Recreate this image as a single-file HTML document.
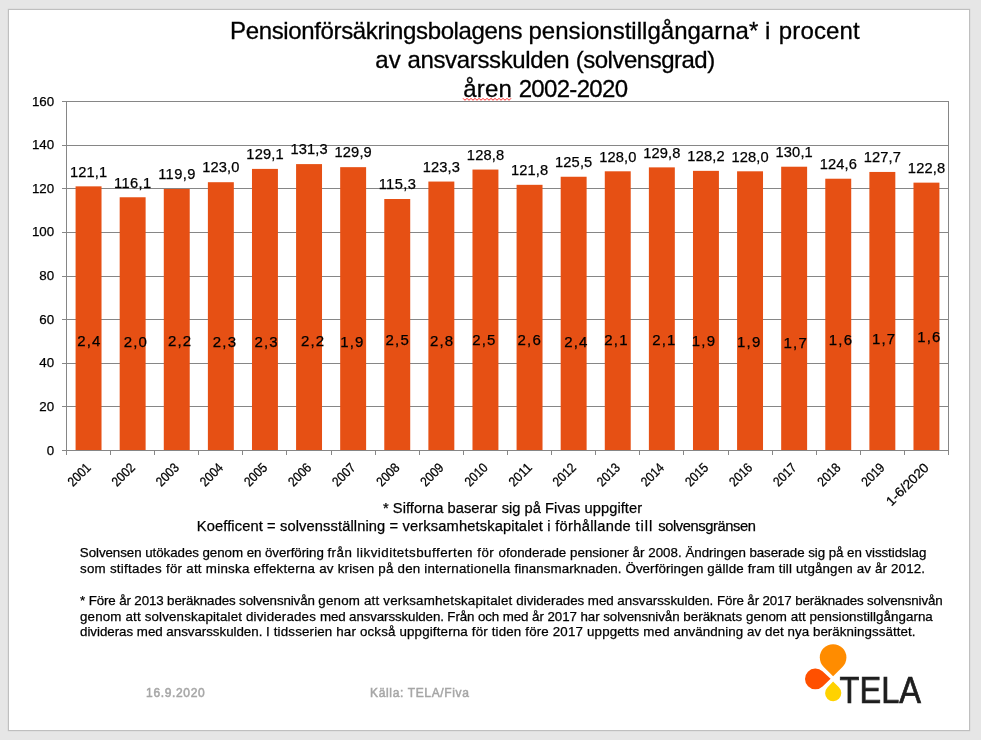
<!DOCTYPE html>
<html lang="sv">
<head>
<meta charset="utf-8">
<title>Pensionförsäkringsbolagens pensionstillgångarna i procent av ansvarsskulden (solvensgrad)</title>
<style>
html,body{margin:0;padding:0;}
body{width:981px;height:740px;overflow:hidden;background:#E6E6E6;font-family:"Liberation Sans", sans-serif;color:#000;position:relative;}
.slide{position:absolute;left:8px;top:9px;width:960px;height:720px;background:#fff;border:1px solid #BFBFBF;box-shadow:0 0 1px #BFBFBF;}
svg.chart,svg.logo{position:absolute;left:0;top:0;}
.ln{position:absolute;white-space:nowrap;line-height:1;margin:0;padding:0;font-weight:400;-webkit-text-stroke:0.25px #000;}
.t{font-size:24px;-webkit-text-stroke-width:0.3px;}
.n{font-size:14.67px;}
.p{font-size:13.33px;}
.f{font-size:12px;font-weight:400;color:#A6A6A6;-webkit-text-stroke:0.5px #A6A6A6;}
</style>
</head>
<body>
<div class="slide"></div>
<svg class="chart" width="981" height="740" viewBox="0 0 981 740" font-family='"Liberation Sans", sans-serif'>
<g stroke="#868686" stroke-width="1" fill="none" shape-rendering="crispEdges">
<line x1="66.5" y1="406.5" x2="948.5" y2="406.5"/>
<line x1="66.5" y1="363.5" x2="948.5" y2="363.5"/>
<line x1="66.5" y1="319.5" x2="948.5" y2="319.5"/>
<line x1="66.5" y1="276.5" x2="948.5" y2="276.5"/>
<line x1="66.5" y1="232.5" x2="948.5" y2="232.5"/>
<line x1="66.5" y1="188.5" x2="948.5" y2="188.5"/>
<line x1="66.5" y1="145.5" x2="948.5" y2="145.5"/>
<line x1="66.5" y1="101.5" x2="948.5" y2="101.5"/>
<line x1="948.5" y1="101.5" x2="948.5" y2="450.5"/>
</g>
<g fill="#E65014">
<rect x="75.58" y="186.35" width="25.94" height="264.15"/>
<rect x="119.68" y="197.26" width="25.94" height="253.24"/>
<rect x="163.78" y="188.97" width="25.94" height="261.53"/>
<rect x="207.88" y="182.21" width="25.94" height="268.29"/>
<rect x="251.98" y="168.9" width="25.94" height="281.6"/>
<rect x="296.08" y="164.1" width="25.94" height="286.4"/>
<rect x="340.18" y="167.16" width="25.94" height="283.34"/>
<rect x="384.28" y="199" width="25.94" height="251.5"/>
<rect x="428.38" y="181.55" width="25.94" height="268.95"/>
<rect x="472.48" y="169.56" width="25.94" height="280.94"/>
<rect x="516.58" y="184.82" width="25.94" height="265.68"/>
<rect x="560.68" y="176.75" width="25.94" height="273.75"/>
<rect x="604.78" y="171.3" width="25.94" height="279.2"/>
<rect x="648.88" y="167.37" width="25.94" height="283.13"/>
<rect x="692.98" y="170.86" width="25.94" height="279.64"/>
<rect x="737.08" y="171.3" width="25.94" height="279.2"/>
<rect x="781.18" y="166.72" width="25.94" height="283.78"/>
<rect x="825.28" y="178.72" width="25.94" height="271.78"/>
<rect x="869.38" y="171.95" width="25.94" height="278.55"/>
<rect x="913.48" y="182.64" width="25.94" height="267.86"/>
</g>
<g stroke="#868686" stroke-width="1" fill="none" shape-rendering="crispEdges">
<line x1="66.5" y1="101.0" x2="66.5" y2="455.0"/>
<line x1="62.0" y1="450.5" x2="949.0" y2="450.5"/>
<line x1="62.0" y1="406.5" x2="66.5" y2="406.5"/>
<line x1="62.0" y1="363.5" x2="66.5" y2="363.5"/>
<line x1="62.0" y1="319.5" x2="66.5" y2="319.5"/>
<line x1="62.0" y1="276.5" x2="66.5" y2="276.5"/>
<line x1="62.0" y1="232.5" x2="66.5" y2="232.5"/>
<line x1="62.0" y1="188.5" x2="66.5" y2="188.5"/>
<line x1="62.0" y1="145.5" x2="66.5" y2="145.5"/>
<line x1="62.0" y1="101.5" x2="66.5" y2="101.5"/>
<line x1="110.5" y1="450.5" x2="110.5" y2="455.0"/>
<line x1="154.5" y1="450.5" x2="154.5" y2="455.0"/>
<line x1="198.5" y1="450.5" x2="198.5" y2="455.0"/>
<line x1="242.5" y1="450.5" x2="242.5" y2="455.0"/>
<line x1="286.5" y1="450.5" x2="286.5" y2="455.0"/>
<line x1="331.5" y1="450.5" x2="331.5" y2="455.0"/>
<line x1="375.5" y1="450.5" x2="375.5" y2="455.0"/>
<line x1="419.5" y1="450.5" x2="419.5" y2="455.0"/>
<line x1="463.5" y1="450.5" x2="463.5" y2="455.0"/>
<line x1="507.5" y1="450.5" x2="507.5" y2="455.0"/>
<line x1="551.5" y1="450.5" x2="551.5" y2="455.0"/>
<line x1="595.5" y1="450.5" x2="595.5" y2="455.0"/>
<line x1="639.5" y1="450.5" x2="639.5" y2="455.0"/>
<line x1="683.5" y1="450.5" x2="683.5" y2="455.0"/>
<line x1="728.5" y1="450.5" x2="728.5" y2="455.0"/>
<line x1="772.5" y1="450.5" x2="772.5" y2="455.0"/>
<line x1="816.5" y1="450.5" x2="816.5" y2="455.0"/>
<line x1="860.5" y1="450.5" x2="860.5" y2="455.0"/>
<line x1="904.5" y1="450.5" x2="904.5" y2="455.0"/>
<line x1="948.5" y1="450.5" x2="948.5" y2="455.0"/>
</g>
<g font-size="13.33" fill="#000" stroke="#000" stroke-width="0.25" text-anchor="end">
<text x="54.2" y="454.5">0</text>
<text x="54.2" y="410.88">20</text>
<text x="54.2" y="367.25">40</text>
<text x="54.2" y="323.62">60</text>
<text x="54.2" y="280">80</text>
<text x="54.2" y="236.38">100</text>
<text x="54.2" y="192.75">120</text>
<text x="54.2" y="149.12">140</text>
<text x="54.2" y="105.5">160</text>
</g>
<g font-size="13.33" fill="#000" stroke="#000" stroke-width="0.25" text-anchor="end">
<text transform="translate(91.75 468.5) rotate(-45)" textLength="26.5" lengthAdjust="spacingAndGlyphs">2001</text>
<text transform="translate(135.85 468.5) rotate(-45)" textLength="26.5" lengthAdjust="spacingAndGlyphs">2002</text>
<text transform="translate(179.95 468.5) rotate(-45)" textLength="26.5" lengthAdjust="spacingAndGlyphs">2003</text>
<text transform="translate(224.05 468.5) rotate(-45)" textLength="26.5" lengthAdjust="spacingAndGlyphs">2004</text>
<text transform="translate(268.15 468.5) rotate(-45)" textLength="26.5" lengthAdjust="spacingAndGlyphs">2005</text>
<text transform="translate(312.25 468.5) rotate(-45)" textLength="26.5" lengthAdjust="spacingAndGlyphs">2006</text>
<text transform="translate(356.35 468.5) rotate(-45)" textLength="26.5" lengthAdjust="spacingAndGlyphs">2007</text>
<text transform="translate(400.45 468.5) rotate(-45)" textLength="26.5" lengthAdjust="spacingAndGlyphs">2008</text>
<text transform="translate(444.55 468.5) rotate(-45)" textLength="26.5" lengthAdjust="spacingAndGlyphs">2009</text>
<text transform="translate(488.65 468.5) rotate(-45)" textLength="26.5" lengthAdjust="spacingAndGlyphs">2010</text>
<text transform="translate(532.75 468.5) rotate(-45)" textLength="26.5" lengthAdjust="spacingAndGlyphs">2011</text>
<text transform="translate(576.85 468.5) rotate(-45)" textLength="26.5" lengthAdjust="spacingAndGlyphs">2012</text>
<text transform="translate(620.95 468.5) rotate(-45)" textLength="26.5" lengthAdjust="spacingAndGlyphs">2013</text>
<text transform="translate(665.05 468.5) rotate(-45)" textLength="26.5" lengthAdjust="spacingAndGlyphs">2014</text>
<text transform="translate(709.15 468.5) rotate(-45)" textLength="26.5" lengthAdjust="spacingAndGlyphs">2015</text>
<text transform="translate(753.25 468.5) rotate(-45)" textLength="26.5" lengthAdjust="spacingAndGlyphs">2016</text>
<text transform="translate(797.35 468.5) rotate(-45)" textLength="26.5" lengthAdjust="spacingAndGlyphs">2017</text>
<text transform="translate(841.45 468.5) rotate(-45)" textLength="26.5" lengthAdjust="spacingAndGlyphs">2018</text>
<text transform="translate(885.55 468.5) rotate(-45)" textLength="26.5" lengthAdjust="spacingAndGlyphs">2019</text>
<text transform="translate(929.65 468.5) rotate(-45)" textLength="54" lengthAdjust="spacingAndGlyphs">1-6/2020</text>
</g>
<g font-size="14.67" fill="#000" stroke="#000" stroke-width="0.25" text-anchor="middle">
<text x="88.55" y="176.6" textLength="37.2" lengthAdjust="spacing">121,1</text>
<text x="132.65" y="187.51" textLength="37.2" lengthAdjust="spacing">116,1</text>
<text x="176.75" y="179.22" textLength="37.2" lengthAdjust="spacing">119,9</text>
<text x="220.85" y="172.46" textLength="37.2" lengthAdjust="spacing">123,0</text>
<text x="264.95" y="159.15" textLength="37.2" lengthAdjust="spacing">129,1</text>
<text x="309.05" y="154.35" textLength="37.2" lengthAdjust="spacing">131,3</text>
<text x="353.15" y="157.41" textLength="37.2" lengthAdjust="spacing">129,9</text>
<text x="397.25" y="189.25" textLength="37.2" lengthAdjust="spacing">115,3</text>
<text x="441.35" y="171.8" textLength="37.2" lengthAdjust="spacing">123,3</text>
<text x="485.45" y="159.81" textLength="37.2" lengthAdjust="spacing">128,8</text>
<text x="529.55" y="175.07" textLength="37.2" lengthAdjust="spacing">121,8</text>
<text x="573.65" y="167" textLength="37.2" lengthAdjust="spacing">125,5</text>
<text x="617.75" y="161.55" textLength="37.2" lengthAdjust="spacing">128,0</text>
<text x="661.85" y="157.62" textLength="37.2" lengthAdjust="spacing">129,8</text>
<text x="705.95" y="161.11" textLength="37.2" lengthAdjust="spacing">128,2</text>
<text x="750.05" y="161.55" textLength="37.2" lengthAdjust="spacing">128,0</text>
<text x="794.15" y="156.97" textLength="37.2" lengthAdjust="spacing">130,1</text>
<text x="838.25" y="168.97" textLength="37.2" lengthAdjust="spacing">124,6</text>
<text x="882.35" y="162.2" textLength="37.2" lengthAdjust="spacing">127,7</text>
<text x="926.45" y="172.89" textLength="37.2" lengthAdjust="spacing">122,8</text>
</g>
<g font-size="15" fill="#000" stroke="#000" stroke-width="0.25" text-anchor="middle">
<text x="88.75" y="346.4" textLength="23.2" lengthAdjust="spacing">2,4</text>
<text x="135.3" y="346.9" textLength="23.2" lengthAdjust="spacing">2,0</text>
<text x="179.5" y="345.8" textLength="23.2" lengthAdjust="spacing">2,2</text>
<text x="224.45" y="347" textLength="23.2" lengthAdjust="spacing">2,3</text>
<text x="266.1" y="347" textLength="23.2" lengthAdjust="spacing">2,3</text>
<text x="312.5" y="345.5" textLength="23.2" lengthAdjust="spacing">2,2</text>
<text x="351.75" y="346.5" textLength="23.2" lengthAdjust="spacing">1,9</text>
<text x="397.2" y="344.9" textLength="23.2" lengthAdjust="spacing">2,5</text>
<text x="441.5" y="346.1" textLength="23.2" lengthAdjust="spacing">2,8</text>
<text x="483.75" y="344.9" textLength="23.2" lengthAdjust="spacing">2,5</text>
<text x="529.2" y="344.9" textLength="23.2" lengthAdjust="spacing">2,6</text>
<text x="575.75" y="346.5" textLength="23.2" lengthAdjust="spacing">2,4</text>
<text x="615.95" y="344.9" textLength="23.2" lengthAdjust="spacing">2,1</text>
<text x="663.8" y="344.9" textLength="23.2" lengthAdjust="spacing">2,1</text>
<text x="703.4" y="346.1" textLength="23.2" lengthAdjust="spacing">1,9</text>
<text x="748.7" y="347.2" textLength="23.2" lengthAdjust="spacing">1,9</text>
<text x="795.2" y="348.3" textLength="23.2" lengthAdjust="spacing">1,7</text>
<text x="840.4" y="344.9" textLength="23.2" lengthAdjust="spacing">1,6</text>
<text x="883.6" y="343.8" textLength="23.2" lengthAdjust="spacing">1,7</text>
<text x="928.75" y="341.6" textLength="23.2" lengthAdjust="spacing">1,6</text>
</g>
<polyline points="463,98.3 465,100.3 467,98.3 469,100.3 471,98.3 473,100.3 475,98.3 477,100.3 479,98.3 481,100.3 483,98.3 485,100.3 487,98.3 489,100.3 491,98.3 493,100.3 495,98.3 497,100.3 499,98.3 501,100.3 503,98.3 505,100.3 507,98.3 509,100.3 511,98.3" fill="none" stroke="#FF2020" stroke-width="1"/>
</svg>
<h1 class="ln t" id="t1" style="left:230.0px;top:19px;"><span style="letter-spacing:-0.359px">Pensionförsäkringsbolagens </span><span style="letter-spacing:0.015px">pensionstillgångarna* </span><span style="letter-spacing:0.85px">i </span><span style="letter-spacing:0.173px">procent</span></h1>
<h1 class="ln t" id="t2" style="left:375.3px;top:48px;"><span style="letter-spacing:0.028px">av </span><span style="letter-spacing:-0.342px">ansvarsskulden </span><span style="letter-spacing:-0.492px">(solvensgrad)</span></h1>
<h1 class="ln t" id="t3" style="left:463.3px;top:77px;"><span style="letter-spacing:0.139px">åren </span><span style="letter-spacing:-0.685px">2002-2020</span></h1>
<div class="ln n" id="n1" style="left:383.0px;top:501px;"><span style="letter-spacing:0.041px">* Sifforna baserar sig på </span><span style="letter-spacing:0.062px">Fivas uppgifter</span></div>
<div class="ln n" id="n2" style="left:196.8px;top:519px;"><span style="letter-spacing:0.121px">Koefficent = solvensställning </span><span style="letter-spacing:0.145px">= verksamhetskapitalet </span><span style="letter-spacing:0.297px">i förhållande </span><span style="letter-spacing:0.976px">till </span><span style="letter-spacing:-0.375px">solvensgränsen</span></div>
<div class="ln p" id="p1" style="left:79.8px;top:546px;"><span style="letter-spacing:-0.054px">Solvensen utökades genom en överföring </span><span style="letter-spacing:0.501px">från likviditetsbufferten för </span><span style="letter-spacing:0.033px">ofonderade pensioner år 2008. </span><span style="letter-spacing:-0.057px">Ändringen baserade sig på en visstidslag</span></div>
<div class="ln p" id="p2" style="left:80.0px;top:562px;"><span style="letter-spacing:0.264px">som stiftades för att minska effekterna </span><span style="letter-spacing:0.212px">av krisen på den internationella </span><span style="letter-spacing:0.08px">finansmarknaden. Överföringen </span><span style="letter-spacing:0.164px">gällde fram till utgången av år 2012.</span></div>
<div class="ln p" id="p4" style="left:80.0px;top:594px;"><span style="letter-spacing:-0.121px">* Före år 2013 beräknades solvensnivån </span><span style="letter-spacing:0.198px">genom att verksamhetskapitalet </span><span style="letter-spacing:-0.029px">dividerades med ansvarsskulden. </span><span style="letter-spacing:-0.135px">Före år 2017 beräknades solvensnivån</span></div>
<div class="ln p" id="p5" style="left:80.0px;top:610px;"><span style="letter-spacing:0.167px">genom att solvenskapitalet dividerades </span><span style="letter-spacing:-0.109px">med ansvarsskulden. Från och </span><span style="letter-spacing:-0.061px">med år 2017 har solvensnivån </span><span style="letter-spacing:0.054px">beräknats genom att pensionstillgångarna</span></div>
<div class="ln p" id="p6" style="left:80.0px;top:625px;"><span style="letter-spacing:-0.023px">divideras med ansvarsskulden. </span><span style="letter-spacing:0.164px">I tidsserien har också uppgifterna för </span><span style="letter-spacing:0.166px">tiden före 2017 uppgetts med </span><span style="letter-spacing:0.067px">användning av det nya beräkningssättet.</span></div>
<div class="ln f" id="f1" style="left:146.1px;top:687px;letter-spacing:0.651px;">16.9.2020</div>
<div class="ln f" id="f2" style="left:370.1px;top:687px;letter-spacing:0.643px;">Källa: TELA/Fiva</div>
<svg class="logo" width="981" height="740" viewBox="0 0 981 740">
<path fill="#FF8C00" d="M833.10 676.20L823.75 666.96A13.3 13.3 0 1 1 842.45 666.96Z"/>
<path fill="#FF5000" d="M830.60 678.80L822.57 686.44A10.4 10.4 0 1 1 822.47 671.27Z"/>
<path fill="#FFD200" d="M833.10 681.60L838.90 687.35A8.1 8.1 0 1 1 827.40 687.45Z"/>
<text x="839.5" y="703.1" font-family='"Liberation Sans", sans-serif' font-size="36.2" fill="#1e1e1e" stroke="#1e1e1e" stroke-width="0.7" textLength="81.5" lengthAdjust="spacingAndGlyphs">TELA</text>
</svg>
</body>
</html>
